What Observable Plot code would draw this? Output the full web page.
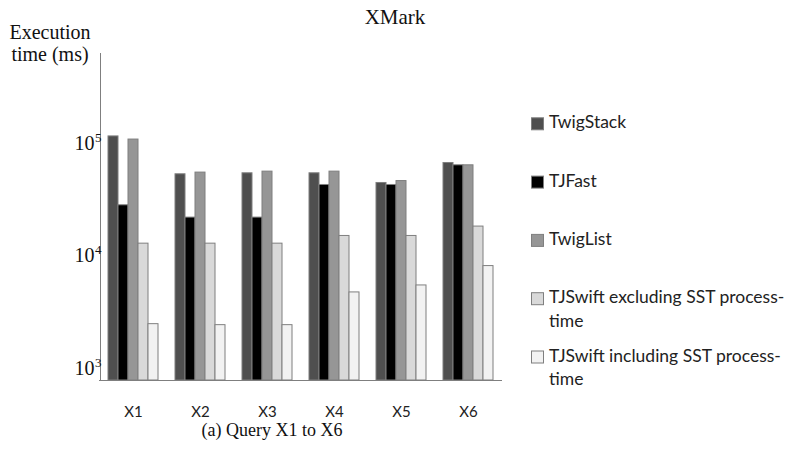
<!DOCTYPE html>
<html>
<head>
<meta charset="utf-8">
<script src="https://cdn.jsdelivr.net/npm/d3@7"></script>
<script src="https://cdn.jsdelivr.net/npm/@observablehq/plot@0.6"></script>
<style>
  html, body { margin: 0; padding: 0; background: #fff; }
  #chart { width: 786px; height: 449px; }
</style>
</head>
<body>
<div id="chart"></div>
<script>
// XMark queries and the five algorithms compared
const queries = ["X1", "X2", "X3", "X4", "X5", "X6"];
const series = [
  "TwigStack",
  "TJFast",
  "TwigList",
  "TJSwift excluding SST process-time",
  "TJSwift including SST process-time"
];
const colors = ["#4f4f4f", "#000000", "#969696", "#d9d9d9", "#f2f2f2"];

// Execution time (ms) per query
const twigStack   = [116000, 53400, 54500, 54500, 44700, 67300];
const tjFast      = [28300, 22000, 22000, 42900, 42900, 64200];
const twigList    = [108800, 55300, 56400, 56400, 46500, 64200];
const tjSwiftExcl = [12900, 12900, 12900, 15100, 15100, 18300];
const tjSwiftIncl = [2480, 2430, 2430, 4750, 5480, 8150];

const yTicks = [1e3, 1e4, 1e5];
const yDomain = [782, 634000];

const valuesBySeries = [twigStack, tjFast, twigList, tjSwiftExcl, tjSwiftIncl];
const data = [];
queries.forEach((q, qi) => {
  series.forEach((s, si) => {
    data.push({query: q, series: s, value: valuesBySeries[si][qi]});
  });
});

const axisColor = "#7f7f7f";
const serif = "Liberation Serif";

const chart = Plot.plot({
  width: 786,
  height: 449,
  marginLeft: 98,
  marginRight: 283,
  marginTop: 53,
  marginBottom: 69,
  style: {background: "#fff"},
  fx: {domain: queries, paddingInner: 0.23, paddingOuter: 0.115, label: null},
  x: {domain: series, padding: 0, axis: null},
  y: {type: "log", domain: yDomain, label: null},
  color: {domain: series, range: colors},
  marks: [
    Plot.barY(data, {
      fx: "query",
      x: "series",
      y1: yDomain[0],
      y2: "value",
      fill: "series",
      stroke: "#7f7f7f",
      strokeWidth: 1
    }),
    // horizontal axis line, joined across the gaps between query groups
    Plot.ruleY([yDomain[0]], {stroke: axisColor, strokeWidth: 1.2, insetLeft: -8, insetRight: -8}),
    // vertical axis line, at the left edge of the first group's outer padding
    Plot.ruleX([{query: queries[0], series: series[0]}], {
      fx: "query",
      x: "series",
      y1: yDomain[0],
      y2: yDomain[1],
      dx: -13,
      stroke: axisColor
    }),
    // tick labels: base "10" and a raised exponent
    Plot.axisY({
      anchor: "left",
      ticks: yTicks,
      tickSize: 0,
      tickPadding: 13,
      tickFormat: () => "10",
      label: null,
      fontSize: 20,
      fontFamily: serif,
      fill: "#111"
    }),
    Plot.axisY({
      anchor: "left",
      ticks: yTicks,
      tickSize: 0,
      tickPadding: 6,
      tickFormat: d => String(Math.round(Math.log10(d))),
      label: null,
      fontSize: 13,
      fontFamily: serif,
      dy: -6,
      fill: "#111"
    }),
    Plot.axisFx({
      anchor: "bottom",
      tickSize: 0,
      tickPadding: 26,
      label: null,
      fontSize: 15,
      fontFamily: "Lato",
      fill: "#222"
    })
  ]
});

document.getElementById("chart").appendChild(chart);

// Title, axis titles and legend, drawn inside the same SVG
const svg = d3.select(chart);

svg.append("text")
  .attr("x", 395).attr("y", 24)
  .attr("text-anchor", "middle")
  .attr("font-family", serif)
  .attr("font-size", 21)
  .attr("fill", "#111")
  .text("XMark");

const yTitle = svg.append("text")
  .attr("text-anchor", "middle")
  .attr("font-family", serif)
  .attr("font-size", 20)
  .attr("fill", "#111");
yTitle.append("tspan").attr("x", 50).attr("y", 39).text("Execution");
yTitle.append("tspan").attr("x", 50).attr("y", 61).text("time (ms)");

svg.append("text")
  .attr("x", 272).attr("y", 436)
  .attr("text-anchor", "middle")
  .attr("font-family", serif)
  .attr("font-size", 18)
  .attr("fill", "#111")
  .text("(a) Query X1 to X6");

const legend = svg.append("g")
  .attr("font-family", "Lato")
  .attr("font-size", 17.5)
  .attr("text-anchor", "start")
  .attr("fill", "#222");

series.forEach((s, i) => {
  const base = 128.3 + i * 58.3;
  legend.append("rect")
    .attr("x", 531.5).attr("y", base - 10.5)
    .attr("width", 12).attr("height", 12)
    .attr("fill", colors[i])
    .attr("stroke", "#7f7f7f");
  const lines = s.replace("process-", "process-\n").split("\n");
  const t = legend.append("text");
  lines.forEach((line, li) => {
    t.append("tspan").attr("x", 549).attr("y", base + li * 23.3).text(line);
  });
});
</script>
</body>
</html>
